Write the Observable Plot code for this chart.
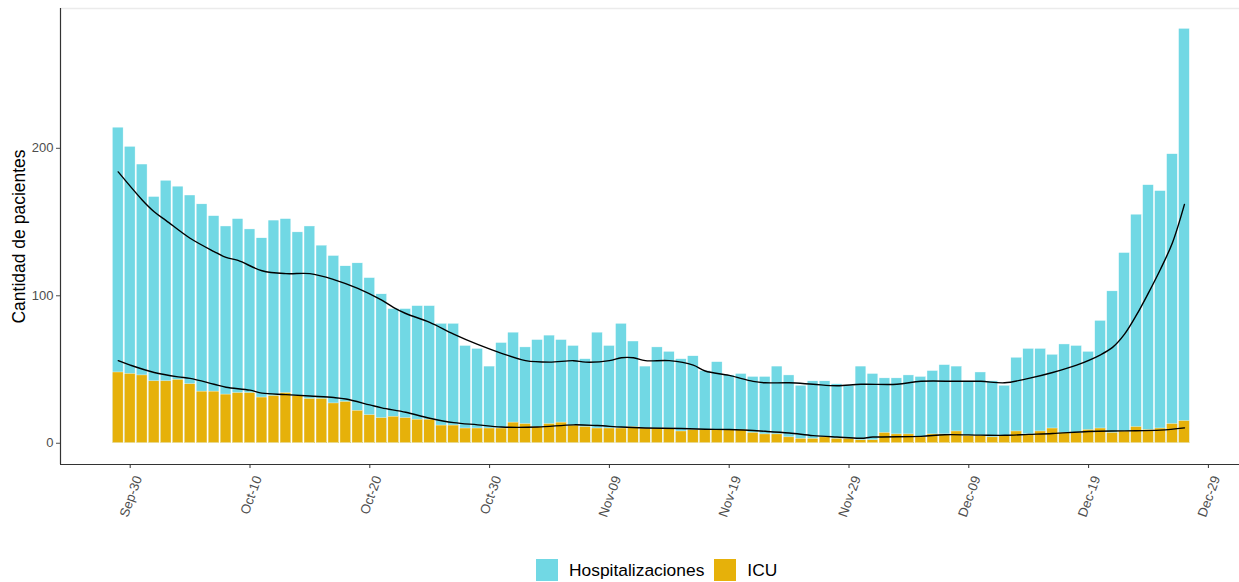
<!DOCTYPE html>
<html><head><meta charset="utf-8">
<script src="https://cdn.jsdelivr.net/npm/d3@7"></script>
<script src="https://cdn.jsdelivr.net/npm/@observablehq/plot@0.6"></script>
<style>
html,body{margin:0;padding:0;background:#fff;font-family:"Liberation Sans",Arial,sans-serif;overflow:hidden;}
#chart svg{display:block;}
#legend{position:relative;height:42px;width:1239px;}
#legend .row{position:absolute;left:536px;top:19px;display:flex;align-items:center;}
#legend .item{display:flex;align-items:center;font-size:17.4px;color:#000;margin-right:10px;}
#legend .sw{width:22px;height:22px;margin-right:11px;}
</style></head><body>
<div id="chart"></div>
<div id="legend"></div>
<script>
// ---- data ----
const startDay = "2020-09-29"; // first bar
const hospitalizaciones = [214,201,189,167,178,174,168,162,154,147,152,145,139,151,152,143,147,134,127,120,122,112,101,91,91,93,93,81,81,66,64,52,68,75,65,70,73,70,66,57,75,66,81,69,52,65,62,57,59,49,55,46,47,45,45,52,46,39,42,42,40,39,52,47,44,44,46,45,49,53,52,42,48,42,39,58,64,64,60,67,66,62,83,103,129,155,175,171,196,281];
const icu = [48,47,46,42,42,43,40,35,35,33,34,34,31,32,34,32,30,30,27,28,22,19,17,18,17,16,16,12,12,10,10,10,10,14,13,11,13,14,12,11,10,10,10,11,10,10,10,8,9,9,9,9,9,7,6,6,4,3,3,4,3,3,2,2,7,6,6,4,6,6,8,5,5,4,5,8,6,8,10,7,7,9,10,7,8,11,9,10,13,15];
// smoothed trend lines (day offset from first bar, value)
const smoothHospDay = [0,2,3,4,6,8,9,10,12,14,16,18,20,22,23,24,26,28,30,32,34,36,38,39,41,42,43,44,46,48,49,51,53,54,56,58,60,62,65,67,70,72,74,76,78,80,82,83,84,85,86,87,88,89];
const smoothHospVal = [184,165,157,151,139,130,126,124,117,115,115,111,105,97,92,88,82,74,67,61,56,55,56,55,56,58,58,56,56,53,49,46,42,41,41,40,39,40,40,42,42,42,41,44,48,53,60,65,74,87,102,118,136,162];
const smoothIcuDay = [0,1,3,5,6,8,9,11,12,14,16,18,19,21,22,24,26,28,30,32,35,38,40,42,44,47,49,51,54,56,58,60,62,63,67,69,72,74,76,78,81,84,87,89];
const smoothIcuVal = [56,53,48,45,44,40,38,36,34,33,32,31,30,26,24,21,17,14,12.5,11,11,12.5,12,11,10.4,10,9.5,9.3,8.1,7,5.2,4.2,3.4,4.2,4.7,5.8,5.5,5.4,6,6.6,8,8.4,8.9,10.4];
const seriesNames = ["Hospitalizaciones", "ICU"];
const seriesColors = ["#71d8e4", "#e6b10a"];
const xTickLabels = ["Sep-30","Oct-10","Oct-20","Oct-30","Nov-09","Nov-19","Nov-29","Dec-09","Dec-19","Dec-29"];
const yTicks = [0, 100, 200];
const yLabel = "Cantidad de pacientes";
const xDomain = [new Date("2020-09-24T04:22Z"), new Date("2020-12-31T14:18Z")];
const yDomain = [-14.4, 294.8];

// ---- build tables ----
const DAY = 864e5;
const t0 = new Date(startDay + "T00:00Z").getTime();
const rows = hospitalizaciones.map((h, i) => ({
  x1: new Date(t0 + i * DAY - 0.45 * DAY),
  x2: new Date(t0 + i * DAY + 0.45 * DAY),
  hosp: h,
  icu: icu[i]
}));
const smoothHosp = smoothHospDay.map((d, i) => ({date: new Date(t0 + d * DAY), v: smoothHospVal[i]}));
const smoothIcu = smoothIcuDay.map((d, i) => ({date: new Date(t0 + d * DAY), v: smoothIcuVal[i]}));
const parseTick = d3.utcParse("%b-%d %Y");
const xTickDates = xTickLabels.map(s => parseTick(s + " 2020"));
const tickLabelMap = new Map(xTickDates.map((d, i) => [+d, xTickLabels[i]]));

const chart = Plot.plot({
  width: 1239,
  height: 540,
  marginLeft: 60,
  marginRight: 0,
  marginTop: 8,
  marginBottom: 76,
  style: {fontFamily: "'Liberation Sans', Arial, sans-serif", background: "#fff", overflow: "visible"},
  x: {type: "utc", domain: xDomain},
  y: {domain: yDomain},
  marks: [
    Plot.ruleY([yDomain[1]], {stroke: "#ebebeb", strokeWidth: 1.3}),
    Plot.rectY(rows, {x1: "x1", x2: "x2", y: "hosp", fill: seriesColors[0], stroke: "#ffffff", strokeWidth: 0.4}),
    Plot.rectY(rows, {x1: "x1", x2: "x2", y: "icu", fill: seriesColors[1], stroke: "#ffffff", strokeWidth: 0.4}),
    Plot.line(smoothHosp, {x: "date", y: "v", stroke: "#000", strokeWidth: 1.4, curve: "catmull-rom"}),
    Plot.line(smoothIcu, {x: "date", y: "v", stroke: "#000", strokeWidth: 1.4, curve: "catmull-rom"}),
    Plot.ruleX([xDomain[0]], {stroke: "#333", strokeWidth: 1.2}),
    Plot.ruleY([yDomain[0]], {stroke: "#333", strokeWidth: 1.2}),
    Plot.axisY({ticks: yTicks, tickSize: 4, tickPadding: 3, fontSize: 13, color: "#4d4d4d", label: null}),
    Plot.axisX({ticks: xTickDates, tickFormat: () => "", tickSize: 4, color: "#333", label: null}),
    Plot.axisX({ticks: xTickDates, tickFormat: d => tickLabelMap.get(+d), tickSize: 0, tickPadding: 12, dx: 8, tickRotate: -70, fontSize: 13.2, color: "#4d4d4d", label: null}),
    Plot.text([yLabel], {frameAnchor: "left", textAnchor: "middle", rotate: -90, dx: -41, fontSize: 17.5, fill: "#000"})
  ]
});
document.getElementById("chart").appendChild(chart);

const legend = document.getElementById("legend");
const row = document.createElement("div");
row.className = "row";
seriesNames.forEach((name, i) => {
  const item = document.createElement("div");
  item.className = "item";
  const sw = document.createElement("div");
  sw.className = "sw";
  sw.style.background = seriesColors[i];
  const label = document.createElement("span");
  label.textContent = name;
  item.appendChild(sw);
  item.appendChild(label);
  row.appendChild(item);
});
legend.appendChild(row);
</script>
</body></html>
